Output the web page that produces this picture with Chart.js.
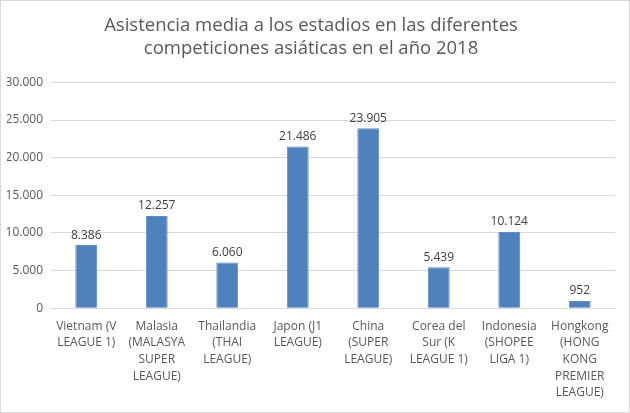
<!DOCTYPE html>
<html>
<head>
<meta charset="utf-8">
<script src="https://cdn.jsdelivr.net/npm/chart.js@4"></script>
<style>
  html, body { margin: 0; padding: 0; background: #fff; }
  #marco { width: 628px; height: 411px; border: 1px solid #d9d9d9; position: relative; }
  canvas { display: block; }
</style>
</head>
<body>
<div id="marco"><canvas id="grafico" width="628" height="411"></canvas></div>
<script>
const categorias = [
  ["Vietnam (V", "LEAGUE 1)"],
  ["Malasia", "(MALASYA", "SUPER", "LEAGUE)"],
  ["Thailandia", "(THAI", "LEAGUE)"],
  ["Japon (J1", "LEAGUE)"],
  ["China", "(SUPER", "LEAGUE)"],
  ["Corea del", "Sur (K", "LEAGUE 1)"],
  ["Indonesia", "(SHOPEE", "LIGA 1)"],
  ["Hongkong", "(HONG", "KONG", "PREMIER", "LEAGUE)"]
];
const asistencia = [8386, 12257, 6060, 21486, 23905, 5439, 10124, 952];
const titulo = ["Asistencia media a los estadios en las diferentes", "competiciones asiáticas en el año 2018"];

const fuente = "'Open Sans', sans-serif";

function formatoMiles(v) {
  return v.toString().replace(/\B(?=(\d{3})+(?!\d))/g, ".");
}

const etiquetasBarras = {
  id: "etiquetasBarras",
  afterDatasetsDraw(chart) {
    const ctx = chart.ctx;
    const meta = chart.getDatasetMeta(0);
    ctx.save();
    ctx.font = "12px " + fuente;
    ctx.fillStyle = "#404040";
    ctx.textAlign = "center";
    ctx.textBaseline = "bottom";
    meta.data.forEach((barra, i) => {
      ctx.fillText(formatoMiles(asistencia[i]), barra.x, barra.y - 4);
    });
    ctx.restore();
  }
};

new Chart(document.getElementById("grafico"), {
  type: "bar",
  data: {
    labels: categorias,
    datasets: [{
      data: asistencia,
      backgroundColor: "#4f81bd",
      borderColor: "#5b8ccb",
      borderWidth: 1,
      categoryPercentage: 1,
      barPercentage: 0.31
    }]
  },
  options: {
    responsive: false,
    animation: false,
    layout: { padding: { left: 6, right: 14, top: 8, bottom: 9 } },
    plugins: {
      legend: { display: false },
      tooltip: { enabled: false },
      title: {
        display: true,
        text: titulo,
        color: "#595959",
        font: { family: fuente, size: 18.5, weight: "normal" },
        padding: { top: 6, bottom: 23 },
        lineHeight: 1.45
      }
    },
    scales: {
      y: {
        min: 0,
        max: 30000,
        ticks: {
          stepSize: 5000,
          color: "#595959",
          font: { family: fuente, size: 12 },
          padding: 8,
          callback: (v) => formatoMiles(v)
        },
        grid: { color: "#d9d9d9", drawTicks: false },
        border: { display: false },
        afterFit(scale) { scale.width = 44; }
      },
      x: {
        ticks: {
          color: "#595959",
          font: { family: fuente, size: 12, lineHeight: 1.38 },
          maxRotation: 0,
          autoSkip: false,
          padding: 2
        },
        grid: { display: false },
        border: { color: "#d9d9d9" }
      }
    }
  },
  plugins: [etiquetasBarras]
});
</script>
</body>
</html>
